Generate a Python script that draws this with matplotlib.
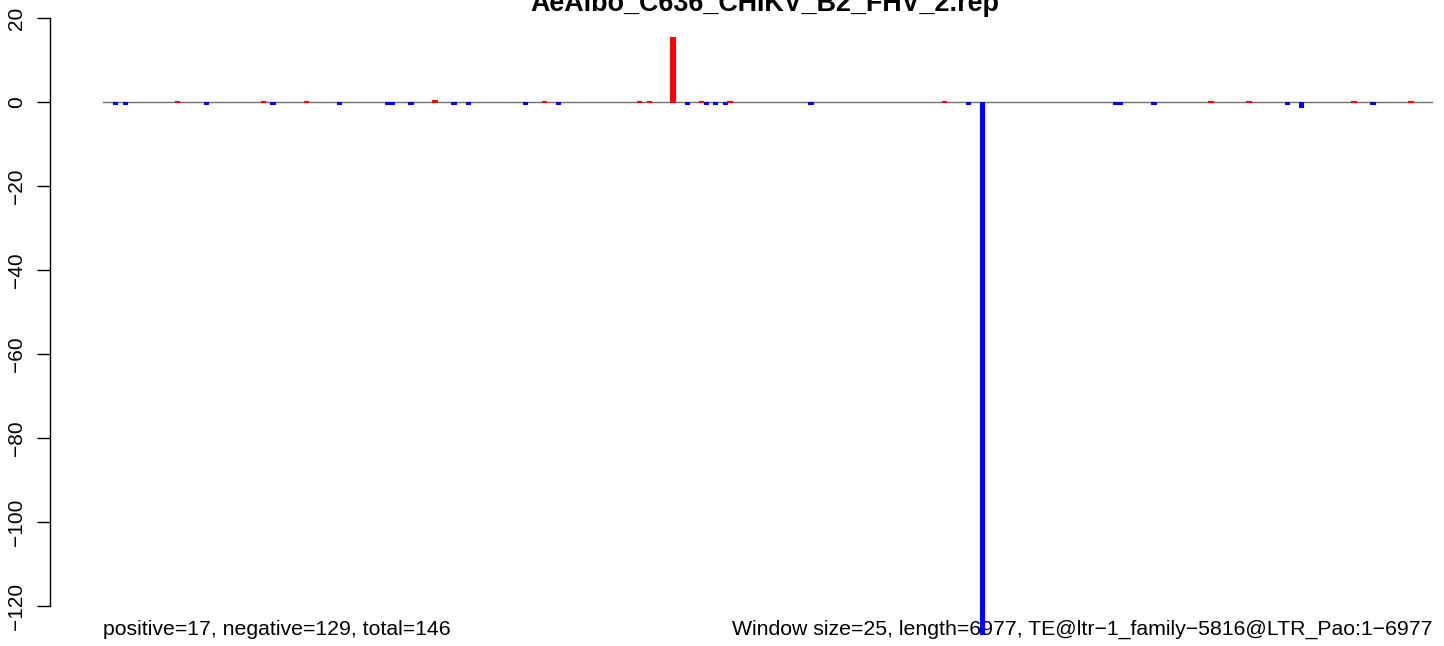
import matplotlib
matplotlib.use("Agg")
import matplotlib.pyplot as plt
import matplotlib.transforms as mtransforms

plt.rcParams['font.family'] = ['Liberation Sans', 'DejaVu Sans']

# ---- data ----
title = "AeAlbo_C636_CHIKV_B2_FHV_2.rep"
window_size = 25
seq_length = 6977
# window index of each bar, its value and strand
bar_windows = [2, 4, 15, 21, 33, 35, 42, 49, 59, 60, 64, 69, 73, 76, 88, 92, 95,
               112, 114, 119, 122, 125, 126, 128, 130, 131, 148, 176, 181, 184,
               212, 213, 220, 232, 240, 248, 251, 262, 266, 274]
bar_values = [-0.3, -0.3, 0.3, -0.3, 0.3, -0.3, 0.3, -0.3, -0.3, -0.3, -0.3, 0.55,
              -0.3, -0.3, -0.3, 0.3, -0.3,
              0.3, 0.3, 15.5, -0.3, 0.3, -0.3, -0.3, -0.3, 0.3, -0.3, 0.3, -0.3, -126.6,
              -0.3, -0.3, -0.3, 0.3, 0.3, -0.3, -1.2, 0.3, -0.3, 0.3]
y_ticks = [20, 0, -20, -40, -60, -80, -100, -120]
left_note = "positive=17, negative=129, total=146"
right_note = ("Window size=25, length=6977, TE@ltr\u22121_family\u22125816@LTR_Pao:1\u22126977")

# ---- figure ----
W, H, DPI = 1444, 646, 100
fig = plt.figure(figsize=(W / DPI, H / DPI), dpi=DPI)

px_per_nt = 0.190464
x0_px = 103.45
ax_left_px, ax_right_px = 50, 1440
y0_px, px_per_unit = 102.3, 4.2

ax = fig.add_axes([ax_left_px / W, 0, (ax_right_px - ax_left_px) / W, 1])
ax.set_xlim((ax_left_px - x0_px) / px_per_nt, (ax_right_px - x0_px) / px_per_nt)
ax.set_ylim(-(H - y0_px) / px_per_unit, y0_px / px_per_unit)

# baseline
ax.plot([0, seq_length], [0, 0], color='#707070', lw=1.0, zorder=1)

centers = [w * window_size + window_size / 2 for w in bar_windows]
colors = ['#FF0000' if v > 0 else '#0000FF' for v in bar_values]
ax.bar(centers, bar_values, width=window_size * 0.9, color=colors,
       edgecolor=colors, linewidth=0.8, zorder=3)

for s in ['top', 'right', 'bottom']:
    ax.spines[s].set_visible(False)
ax.spines['left'].set_bounds(min(y_ticks), max(y_ticks))
ax.spines['left'].set_linewidth(1.0)
ax.set_xticks([])
ax.set_yticks(y_ticks)
ax.set_yticklabels([str(t).replace('-', '\u2212') for t in y_ticks],
                   rotation=90, va='center', fontsize=15)
ax.tick_params(axis='y', length=9.5, width=1.0, pad=7.5)

# bottom notes
trans = mtransforms.blended_transform_factory(ax.transData, fig.transFigure)
ax.text(0, 1 - 635 / H, left_note, transform=trans, ha='left', va='baseline',
        fontsize=15.3, zorder=0)
ax.text(seq_length, 1 - 635 / H, right_note, transform=trans, ha='right',
        va='baseline', fontsize=15.3, zorder=0)

fig.text(765 / W, 1 - 11 / H, title, ha='center', va='baseline',
         fontsize=19.4, fontweight='bold')

fig.savefig('out.png', dpi=DPI)
